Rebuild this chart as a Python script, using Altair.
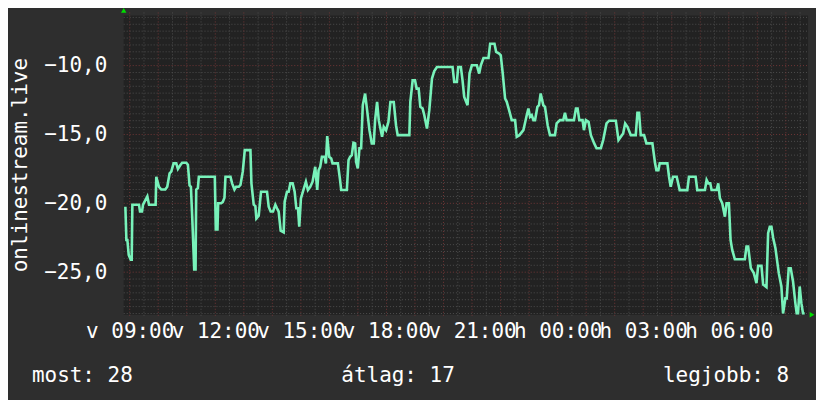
import altair as alt
import numpy as np
import pandas as pd

# time in minutes relative to 09:00 (first day), value = negative rank
minutes = [-9.1, -7.0, -4.9, -2.1, 2.1, 4.2, 5.6, 19.6, 21.7, 25.9, 28.0, 37.1, 40.6, 54.5, 55.9, 61.5, 66.4, 74.8, 79.0, 83.9,
           87.4, 92.3, 97.9, 101.4, 107.0, 110.5, 118.9, 122.4, 125.9, 128.7, 131.5, 135.7, 138.5, 139.9, 143.4, 145.4, 179.0,
           181.1, 184.6, 186.0, 192.3, 195.8, 199.3, 201.4, 211.9, 215.4, 220.3, 223.8, 229.4, 232.9, 237.8, 242.0, 253.9,
           256.0, 260.8, 264.3, 266.4, 271.3, 276.2, 288.8, 292.3, 296.5, 301.4, 306.3, 309.8, 313.3, 317.5, 323.8, 325.9,
           330.8, 334.3, 337.8, 342.7, 346.9, 350.4, 353.9, 356.6, 360.1, 364.3, 370.6, 374.8, 379.7, 384.6, 390.2, 394.4,
           397.2, 400.7, 404.2, 409.8, 412.6, 415.4, 419.6, 423.8, 426.6, 437.8, 442.0, 444.8, 456.7, 460.2, 463.6, 467.1,
           470.6, 474.1, 476.2, 479.7, 483.2, 486.7, 490.2, 495.1, 499.3, 504.2, 509.1, 513.3, 516.1, 520.3, 523.8, 527.3,
           530.8, 534.3, 539.2, 544.1, 548.3, 555.3, 560.1, 563.6, 588.1, 590.2, 595.1, 600.0, 603.5, 607.7, 611.2, 616.1,
           619.6, 625.2, 630.1, 635.7, 640.6, 646.2, 679.0, 682.5, 688.1, 690.9, 696.5, 700.0, 703.5, 710.5, 714.7, 719.6,
           730.1, 735.0, 738.5, 744.1, 754.6, 758.1, 767.2, 770.7, 776.9, 780.4, 784.6, 789.5, 793.0, 797.9, 803.5, 810.5,
           814.0, 819.6, 828.0, 835.0, 838.5, 842.0, 845.5, 849.0, 852.5, 857.4, 860.8, 864.3, 869.9, 873.4, 879.0, 883.9,
           894.4, 897.9, 904.9, 911.9, 915.4, 918.9, 934.3, 938.5, 942.0, 945.5, 952.4, 955.3, 959.4, 965.0, 969.9, 976.9,
           981.8, 990.9, 995.8, 1002.8, 1008.4, 1022.4, 1028.0, 1032.9, 1037.8, 1042.0, 1046.9, 1053.9, 1064.3, 1067.8,
           1071.3, 1074.8, 1081.8, 1086.7, 1099.3, 1104.9, 1107.7, 1111.9, 1114.7, 1130.8, 1134.3, 1137.8, 1142.7, 1150.4,
           1156.7, 1172.7, 1176.2, 1190.2, 1193.7, 1209.8, 1213.3, 1216.8, 1221.0, 1223.8, 1234.3, 1237.8, 1241.3, 1246.2,
           1251.8, 1255.3, 1260.2, 1263.7, 1267.2, 1272.7, 1293.7, 1297.2, 1300.7, 1306.3, 1312.6, 1318.2, 1321.7, 1328.7,
           1332.2, 1339.2, 1342.7, 1346.2, 1349.7, 1353.2, 1358.1, 1365.1, 1370.6, 1374.1, 1379.0, 1381.8, 1386.0, 1390.2,
           1395.1, 1400.0, 1402.8, 1405.6, 1409.1, 1412.6, 1416.1, 1419.6]
values = [-20.25, -22.66, -22.66, -23.75, -24.1, -24.1, -20.1, -20.1, -20.6, -20.6, -20.1, -19.5, -20.1, -20.1, -18.07, -18.8,
          -19.0, -19.0, -18.8, -17.83, -17.7, -17.1, -17.1, -17.5, -17.2, -17.05, -17.05, -17.2, -18.7, -18.8, -21.0, -24.8,
          -24.8, -19.0, -18.9, -18.07, -18.07, -21.9, -21.9, -20.0, -20.0, -19.9, -19.6, -18.07, -18.07, -18.55, -19.0, -18.8,
          -18.8, -18.67, -17.7, -16.14, -16.14, -18.55, -20.1, -20.2, -21.1, -20.9, -19.16, -19.16, -20.25, -20.6, -20.6,
          -20.1, -20.36, -20.6, -21.98, -22.1, -19.88, -19.16, -19.16, -18.55, -18.55, -19.16, -20.36, -20.36, -21.7, -19.64,
          -19.16, -18.43, -19.03, -18.8, -18.43, -17.35, -19.03, -17.6, -17.35, -16.62, -16.62, -17.1, -15.12, -16.62, -16.74,
          -17.1, -17.1, -18.19, -19.03, -19.03, -16.86, -16.62, -16.5, -15.6, -15.65, -16.98, -17.46, -16.0, -16.0, -12.88,
          -12.03, -13.24, -14.69, -15.65, -15.65, -13.96, -12.64, -13.96, -14.57, -15.17, -14.45, -14.69, -14.09, -12.64,
          -12.64, -14.33, -15.05, -15.05, -12.64, -11.07, -11.07, -11.67, -11.67, -13.0, -13.12, -13.6, -14.57, -13.24,
          -10.94, -10.39, -10.1, -10.1, -11.19, -11.19, -10.1, -10.1, -11.07, -12.27, -12.88, -10.58, -9.98, -9.98, -10.58,
          -9.98, -9.45, -9.45, -8.41, -8.41, -9.01, -9.13, -9.25, -10.58, -12.39, -12.63, -13.24, -13.96, -13.96, -15.17,
          -15.05, -14.69, -13.6, -13.12, -13.72, -13.6, -13.96, -13.96, -13.0, -12.88, -12.03, -12.88, -13.0, -14.33, -15.05,
          -15.05, -14.2, -13.96, -13.96, -13.43, -13.96, -13.96, -13.12, -13.12, -13.96, -13.96, -14.69, -13.96, -14.08,
          -15.05, -15.65, -16.0, -16.0, -15.41, -14.2, -14.0, -14.0, -15.41, -15.17, -14.93, -14.2, -14.45, -15.05, -15.05,
          -13.42, -13.42, -15.05, -15.05, -15.65, -15.65, -17.1, -17.59, -17.59, -17.1, -17.1, -18.07, -18.8, -18.07, -18.07,
          -19.04, -19.04, -18.07, -18.07, -19.04, -19.03, -18.3, -18.55, -18.55, -19.03, -19.03, -18.55, -19.64, -20.0,
          -20.97, -20.0, -20.0, -22.66, -23.38, -24.06, -24.06, -23.14, -23.14, -24.71, -25.07, -25.8, -24.54, -24.54, -25.9,
          -26.09, -22.17, -21.7, -21.7, -22.5, -23.26, -25.07, -26.04, -28.0, -26.9, -26.9, -24.71, -24.71, -25.68, -27.25,
          -28.0, -28.0, -26.04, -27.25, -28.0, -28.0]

x_tick_values = [0, 180, 360, 540, 720, 900, 1080, 1260]
x_tick_labels = ["v 09:00", "v 12:00", "v 15:00", "v 18:00", "v 21:00", "h 00:00", "h 03:00", "h 06:00"]
y_tick_values = [-25, -20, -15, -10]
y_title = "onlinestream.live"
footer_left = "most: 28"
footer_mid = "átlag: 17"
footer_right = "legjobb: 8"

FONT = "DejaVu Sans Mono"
W, H = 686, 300
x_domain = [-12.6, 1426.6]
y_domain = [-28.09, -6.36]

df = pd.DataFrame({"m": minutes, "v": values})
xs = alt.Scale(domain=x_domain, nice=False, zero=False)
ys = alt.Scale(domain=y_domain, nice=False, zero=False)

label_expr = ""
for val, lab in zip(x_tick_values, x_tick_labels):
    label_expr += f"datum.value == {val} ? '{lab}' : "
label_expr += "''"

x_axis = alt.Axis(values=x_tick_values, labelExpr=label_expr, grid=False, domain=False, ticks=False,
                  labelFont=FONT, labelFontSize=21, labelColor="#ffffff", labelPadding=6,
                  labelOverlap=False, labelFlush=False, labelBound=False, title=None)
y_axis = alt.Axis(values=y_tick_values, labelExpr="replace(format(datum.value, '.1f'), '.', ',')",
                  grid=False, domain=False, ticks=False, labelFont=FONT, labelFontSize=21,
                  labelColor="#ffffff", labelPadding=17, labelOverlap=False, labelFlush=False, title=None)

X = lambda: alt.X("m:Q", scale=xs, axis=x_axis, title=None)
Y = lambda: alt.Y("v:Q", scale=ys, axis=y_axis, title=None)

minor_h = pd.DataFrame({"v": [v for v in np.arange(-28, -6.4, 0.5) if abs(v % 5) > 1e-9]})
major_h = pd.DataFrame({"v": y_tick_values})
minor_v = pd.DataFrame({"m": np.arange(30, 1427, 60)})
major_v = pd.DataFrame({"m": np.arange(0, 1427, 60)})

grid_minor_col = "#4d4d4d"
grid_major_col = "#703636"

gh_minor = alt.Chart(minor_h).mark_rule(color=grid_minor_col, strokeDash=[1, 2], strokeWidth=1).encode(
    y=Y(), x=alt.value(0), x2=alt.value(W))
gv_minor = alt.Chart(minor_v).mark_rule(color=grid_minor_col, strokeDash=[1, 2], strokeWidth=1).encode(
    x=X(), y=alt.value(-3), y2=alt.value(H + 2))
gh_major = alt.Chart(major_h).mark_rule(color=grid_major_col, strokeDash=[1, 2], strokeWidth=1).encode(
    y=Y(), x=alt.value(0), x2=alt.value(W))
gv_major = alt.Chart(major_v).mark_rule(color=grid_major_col, strokeDash=[1, 2], strokeWidth=1).encode(
    x=X(), y=alt.value(-3), y2=alt.value(H + 3))

line = alt.Chart(df).mark_line(color="#78f2ba", strokeWidth=2.6, clip=True, strokeJoin="miter").encode(
    x=X(), y=Y())

title_df = pd.DataFrame({"t": [y_title]})
ytitle = alt.Chart(title_df).mark_text(angle=270, font=FONT, fontSize=21, color="#ffffff",
                                       align="center", baseline="middle").encode(
    text="t:N", x=alt.value(-103), y=alt.value(150))

foot = pd.DataFrame({"t": [footer_left, footer_mid, footer_right],
                     "pos": ["l", "m", "r"]})
f_l = alt.Chart(foot[foot.pos == "l"]).mark_text(font=FONT, fontSize=21, color="#ffffff", align="left",
                                                 baseline="alphabetic").encode(text="t:N", x=alt.value(-92), y=alt.value(367))
f_m = alt.Chart(foot[foot.pos == "m"]).mark_text(font=FONT, fontSize=21, color="#ffffff", align="center",
                                                 baseline="alphabetic").encode(text="t:N", x=alt.value(275), y=alt.value(367))
f_r = alt.Chart(foot[foot.pos == "r"]).mark_text(font=FONT, fontSize=21, color="#ffffff", align="right",
                                                 baseline="alphabetic").encode(text="t:N", x=alt.value(667), y=alt.value(367))

arr = pd.DataFrame({"a": [1]})
arrow_up = alt.Chart(arr).mark_point(shape="triangle-up", filled=True, color="#00dd00", size=30, opacity=1).encode(
    x=alt.value(0), y=alt.value(-5))
arrow_right = alt.Chart(arr).mark_point(shape="triangle-right", filled=True, color="#00dd00", size=30, opacity=1).encode(
    x=alt.value(W + 4), y=alt.value(H))

chart = alt.layer(gh_minor, gv_minor, gh_major, gv_major, line, ytitle, f_l, f_m, f_r, arrow_up, arrow_right).properties(
    width=W, height=H,
    autosize=alt.AutoSizeParams(type="none"),
    padding={"left": 116, "top": 7, "right": 8, "bottom": 85},
    background="#2e2e2e",
).configure_view(fill="#222222", stroke=None)

chart.save("out.html", embed_options={"renderer": "svg", "actions": False})
